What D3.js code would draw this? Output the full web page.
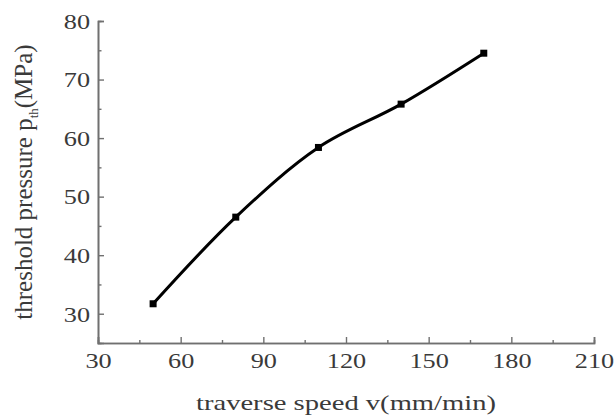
<!DOCTYPE html>
<html>
<head>
<meta charset="utf-8">
<script src="https://cdn.jsdelivr.net/npm/d3@7"></script>
<style>
  html, body { margin: 0; padding: 0; background: #fff; }
  svg { display: block; }
  text { font-family: "Liberation Serif", "Times New Roman", serif; fill: #3a3a3a; }
</style>
</head>
<body>
<svg id="chart" width="614" height="417"></svg>
<script>
// Threshold pressure vs. traverse speed
const speeds = [50, 80, 110, 140, 170];
const pressures = [31.7, 46.5, 58.4, 65.8, 74.5];
const xTicks = [30, 60, 90, 120, 150, 180, 210];
const yTicks = [30, 40, 50, 60, 70, 80];
const xMinorTicks = [45, 75, 105, 135, 165, 195];
const yMinorTicks = [35, 45, 55, 65, 75];

const W = 614, H = 417;
const margin = { top: 21, right: 20, bottom: 74, left: 98 };
const svg = d3.select("#chart");

const x = d3.scaleLinear().domain([30, 210]).range([margin.left, W - margin.right]);
const y = d3.scaleLinear().domain([25, 80]).range([H - margin.bottom, margin.top]);

const axisColor = "#707070";
const stretch = 1.25;

// bottom axis: inward major ticks plus shorter minor ticks
const gx = svg.append("g").attr("transform", `translate(0,${y(25)})`);
gx.call(d3.axisBottom(x).tickValues(xTicks).tickSize(-6).tickPadding(0).tickFormat(d3.format("d")));
gx.append("g").call(d3.axisBottom(x).tickValues(xMinorTicks).tickSize(-3).tickFormat(""));
gx.selectAll(".domain").attr("stroke", axisColor).attr("stroke-width", 1.6);
gx.selectAll(".tick line").attr("stroke", axisColor).attr("stroke-width", 1.4);
gx.selectAll(".tick text")
  .attr("y", 0).attr("dy", 0)
  .attr("transform", `translate(0,25) scale(${stretch},1)`)
  .style("font-size", "21px").attr("fill", "#3a3a3a");

// left axis
const gy = svg.append("g").attr("transform", `translate(${x(30)},0)`);
gy.call(d3.axisLeft(y).tickValues(yTicks).tickSize(-6).tickPadding(0).tickFormat(d3.format("d")));
gy.append("g").call(d3.axisLeft(y).tickValues(yMinorTicks).tickSize(-3.5).tickFormat(""));
gy.selectAll(".domain").attr("stroke", axisColor).attr("stroke-width", 1.6);
gy.selectAll(".tick line").attr("stroke", axisColor).attr("stroke-width", 1.4);
gy.selectAll(".tick text")
  .attr("x", 0).attr("dy", "0.35em")
  .attr("transform", `translate(-8,0) scale(${stretch},1)`)
  .style("font-size", "21px").attr("fill", "#3a3a3a");

// axis titles
svg.append("text")
  .attr("transform", `translate(346,410) scale(1.3,1)`)
  .attr("text-anchor", "middle")
  .style("font-size", "22px")
  .text("traverse speed v(mm/min)");

const yt = svg.append("text")
  .attr("transform", `translate(32,182) rotate(-90)`)
  .attr("text-anchor", "middle")
  .style("font-size", "25px");
yt.append("tspan").text("threshold pressure p");
yt.append("tspan").attr("dy", 6).style("font-size", "13px").text("th");
yt.append("tspan").attr("dy", -6).text("(MPa)");

// smooth curve through the measured points
const pts = speeds.map((s, i) => [s, pressures[i]]);
const line = d3.line().x(d => x(d[0])).y(d => y(d[1])).curve(d3.curveCatmullRom.alpha(0.5));
svg.append("path")
  .datum(pts)
  .attr("d", line)
  .attr("fill", "none")
  .attr("stroke", "#000")
  .attr("stroke-width", 3);

// square markers
const m = 7;
svg.selectAll("rect.pt")
  .data(pts)
  .enter().append("rect")
  .attr("class", "pt")
  .attr("x", d => x(d[0]) - m / 2)
  .attr("y", d => y(d[1]) - m / 2)
  .attr("width", m)
  .attr("height", m)
  .attr("fill", "#000");
</script>
</body>
</html>
